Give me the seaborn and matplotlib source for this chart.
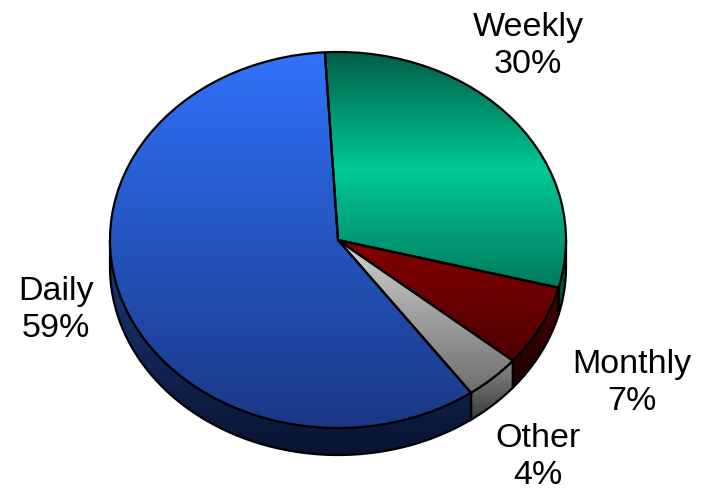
import numpy as np
import matplotlib.pyplot as plt
import seaborn as sns
from matplotlib.patches import Polygon

sns.set_theme(style="white")
plt.rcParams["font.family"] = ["Liberation Sans", "DejaVu Sans"]

# ------------------------------------------------------------
# data
# ------------------------------------------------------------
labels = ["Weekly", "Monthly", "Other", "Daily"]
shares = [30, 7, 4, 59]

# gradient stops, top -> bottom
top_colors = [
    ["#005c46", "#00c896", "#007a5c"],
    ["#850000", "#4c0000"],
    ["#d2d2d2", "#6e6e6e"],
    ["#3072fa", "#1a3784"],
]
side_colors = [
    ["#007056", "#00402f"],
    ["#4a0000", "#1c0000"],
    ["#8a8a8a", "#3a3a3a"],
    ["#1d3b82", "#081330"],
]

# label centres in pixels (from top-left)
label_pos = [(528, 46), (632, 383), (538, 457), (56, 310)]

start_angle = 93.3
W, H = 703, 497
cx, cy = 338, 240          # pie centre, pixels
rx, ry = 228, 188          # ellipse half axes, pixels
depth = 27 / ry            # thickness of the pie side


def fill_gradient(patch, colors, zorder):
    cmap = sns.blend_palette(colors, as_cmap=True)
    v = patch.get_path().vertices
    if patch.get_transform() is not ax.transData:
        v = patch.get_patch_transform().transform(v)
    x0, x1 = v[:, 0].min(), v[:, 0].max()
    y0, y1 = v[:, 1].min(), v[:, 1].max()
    grad = np.linspace(1, 0, 256).reshape(-1, 1)
    img = ax.imshow(grad, extent=(x0, x1, y0, y1), origin="lower",
                    cmap=cmap, vmin=0, vmax=1, aspect="auto", zorder=zorder)
    img.set_clip_path(patch)


fig = plt.figure(figsize=(W / 100, H / 100), dpi=100)
ax = fig.add_axes([0, 0, 1, 1])

wedges, _ = ax.pie(
    shares,
    startangle=start_angle,
    counterclock=False,
    radius=1,
    center=(0, 0),
    wedgeprops=dict(edgecolor="black", linewidth=1.6),
)

# sides of the pie (front half only)
for w, cols in zip(wedges, side_colors):
    for k in (-360, 0, 360):
        lo = max(w.theta1, -180 + k)
        hi = min(w.theta2, 0 + k)
        if hi <= lo:
            continue
        t = np.radians(np.linspace(lo, hi, 80))
        top = np.column_stack([np.cos(t), np.sin(t)])
        bot = np.column_stack([np.cos(t), np.sin(t) - depth])[::-1]
        side = Polygon(np.vstack([top, bot]), closed=True, facecolor="none",
                       edgecolor="black", linewidth=1.6, zorder=1.5)
        ax.add_patch(side)
        fill_gradient(side, cols, 1.2)

# top faces with vertical gradients
for w, cols in zip(wedges, top_colors):
    w.set_zorder(3)
    fill_gradient(w, cols, 2)
    w.set_facecolor("none")

for lab, val, (px, py) in zip(labels, shares, label_pos):
    fig.text(px / W, 1 - py / H, f"{lab}\n{val}%", ha="center", va="center",
             fontsize=24.5, linespacing=1.28, color="black")

ax.set_aspect("auto")
ax.set_xlim(-cx / rx, (W - cx) / rx)
ax.set_ylim((cy - H) / ry, cy / ry)
ax.axis("off")

plt.savefig("out.png", dpi=100)
